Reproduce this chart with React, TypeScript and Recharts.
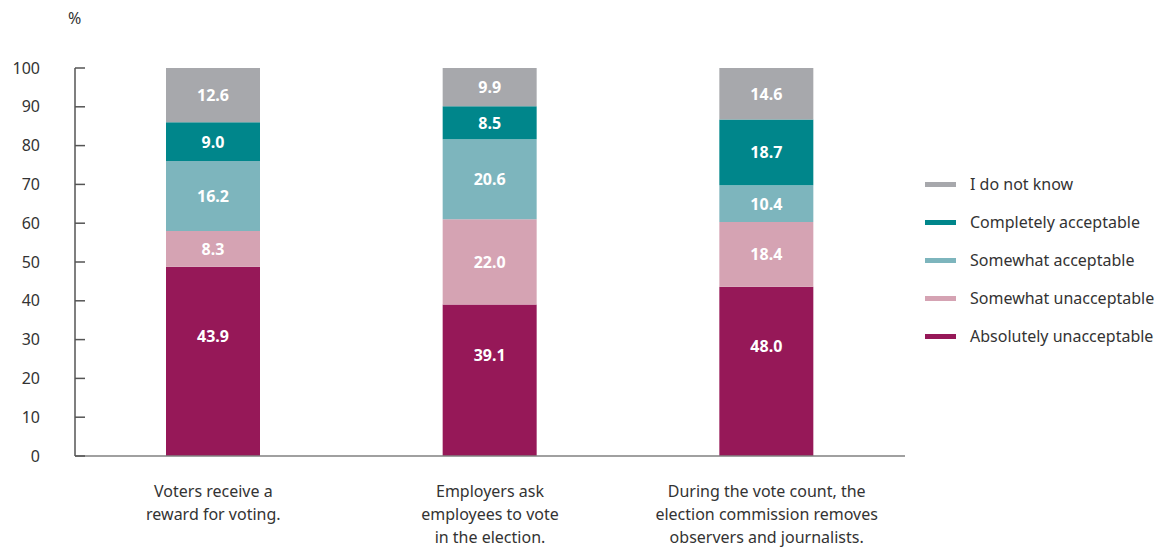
import { BarChart, Bar, XAxis, YAxis, LabelList } from "recharts";

const categories = [
  "Voters receive a\nreward for voting.",
  "Employers ask\nemployees to vote\nin the election.",
  "During the vote count, the\nelection commission removes\nobservers and journalists.",
];

const absolutelyUnacceptable = [43.9, 39.1, 48.0];
const somewhatUnacceptable = [8.3, 22.0, 18.4];
const somewhatAcceptable = [16.2, 20.6, 10.4];
const completelyAcceptable = [9.0, 8.5, 18.7];
const doNotKnow = [12.6, 9.9, 14.6];

const yTicks = [0, 0.1, 0.2, 0.3, 0.4, 0.5, 0.6, 0.7, 0.8, 0.9, 1];

const series = [
  { key: "absolutely", name: "Absolutely unacceptable", color: "#961858", values: absolutelyUnacceptable },
  { key: "somewhatUn", name: "Somewhat unacceptable", color: "#d5a3b3", values: somewhatUnacceptable },
  { key: "somewhatAcc", name: "Somewhat acceptable", color: "#7db5bd", values: somewhatAcceptable },
  { key: "completely", name: "Completely acceptable", color: "#00868b", values: completelyAcceptable },
  { key: "dontKnow", name: "I do not know", color: "#a7a8ac", values: doNotKnow },
];

const data = categories.map((name, i) => {
  const row: Record<string, number | string> = { name };
  series.forEach((s) => (row[s.key] = s.values[i]));
  return row;
});

const FONT = "'Noto Sans', sans-serif";
const TEXT = "#333333";

const XTick = (props: any) => {
  const { x, y, payload } = props;
  const lines = String(payload.value).split("\n");
  return (
    <text x={x} y={y + 33} textAnchor="middle" fill={TEXT} fontSize={16} fontFamily={FONT}>
      {lines.map((l, i) => (
        <tspan key={i} x={x} dy={i === 0 ? 0 : 23}>
          {l}
        </tspan>
      ))}
    </text>
  );
};

const makeLabel = (lift: number) => (props: any) => {
  const { x, y, width, height, value } = props;
  return (
    <text
      x={x + width / 2}
      y={y + height / 2 - lift}
      textAnchor="middle"
      dominantBaseline="central"
      fill="#ffffff"
      fontSize={16}
      fontWeight="bold"
      fontFamily={FONT}
    >
      {Number(value).toFixed(1)}
    </text>
  );
};

export default function App() {
  return (
    <div style={{ position: "absolute", left: 0, top: 0, width: 1176, height: 553, background: "#fff" }}>
      <div style={{ position: "absolute", left: 68, top: 7, fontFamily: FONT, fontSize: 16, color: TEXT }}>%</div>
      <BarChart
        width={1176}
        height={553}
        data={data}
        stackOffset="expand"
        margin={{ top: 68, right: 271, left: 0, bottom: 0 }}
        barSize={94}
      >
        <XAxis
          dataKey="name"
          tickLine={false}
          axisLine={{ stroke: "#808080", strokeWidth: 1.5 }}
          height={97}
          interval={0}
          tick={<XTick />}
        />
        <YAxis
          width={75}
          domain={[0, 1]}
          ticks={yTicks}
          tickFormatter={(v: number) => String(Math.round(v * 100))}
          axisLine={{ stroke: "#555555", strokeWidth: 1.5 }}
          tickLine={{ stroke: "#555555", strokeWidth: 1.5 }}
          tickSize={-10}
          tickMargin={45}
          tick={{ fill: TEXT, fontSize: 16, fontFamily: FONT, textAnchor: "end" }}
        />
        {series.map((s, i) => (
          <Bar key={s.key} dataKey={s.key} name={s.name} stackId="a" fill={s.color} isAnimationActive={false}>
            <LabelList dataKey={s.key} content={makeLabel(i === 0 ? 25 : 0)} />
          </Bar>
        ))}
      </BarChart>
      <div style={{ position: "absolute", left: 925, top: 165, fontFamily: FONT, fontSize: 16, color: TEXT }}>
        {[...series].reverse().map((s) => (
          <div key={s.key} style={{ display: "flex", alignItems: "center", height: 38 }}>
            <span style={{ display: "inline-block", width: 31, height: 5, background: s.color, marginRight: 14 }} />
            <span>{s.name}</span>
          </div>
        ))}
      </div>
    </div>
  );
}
